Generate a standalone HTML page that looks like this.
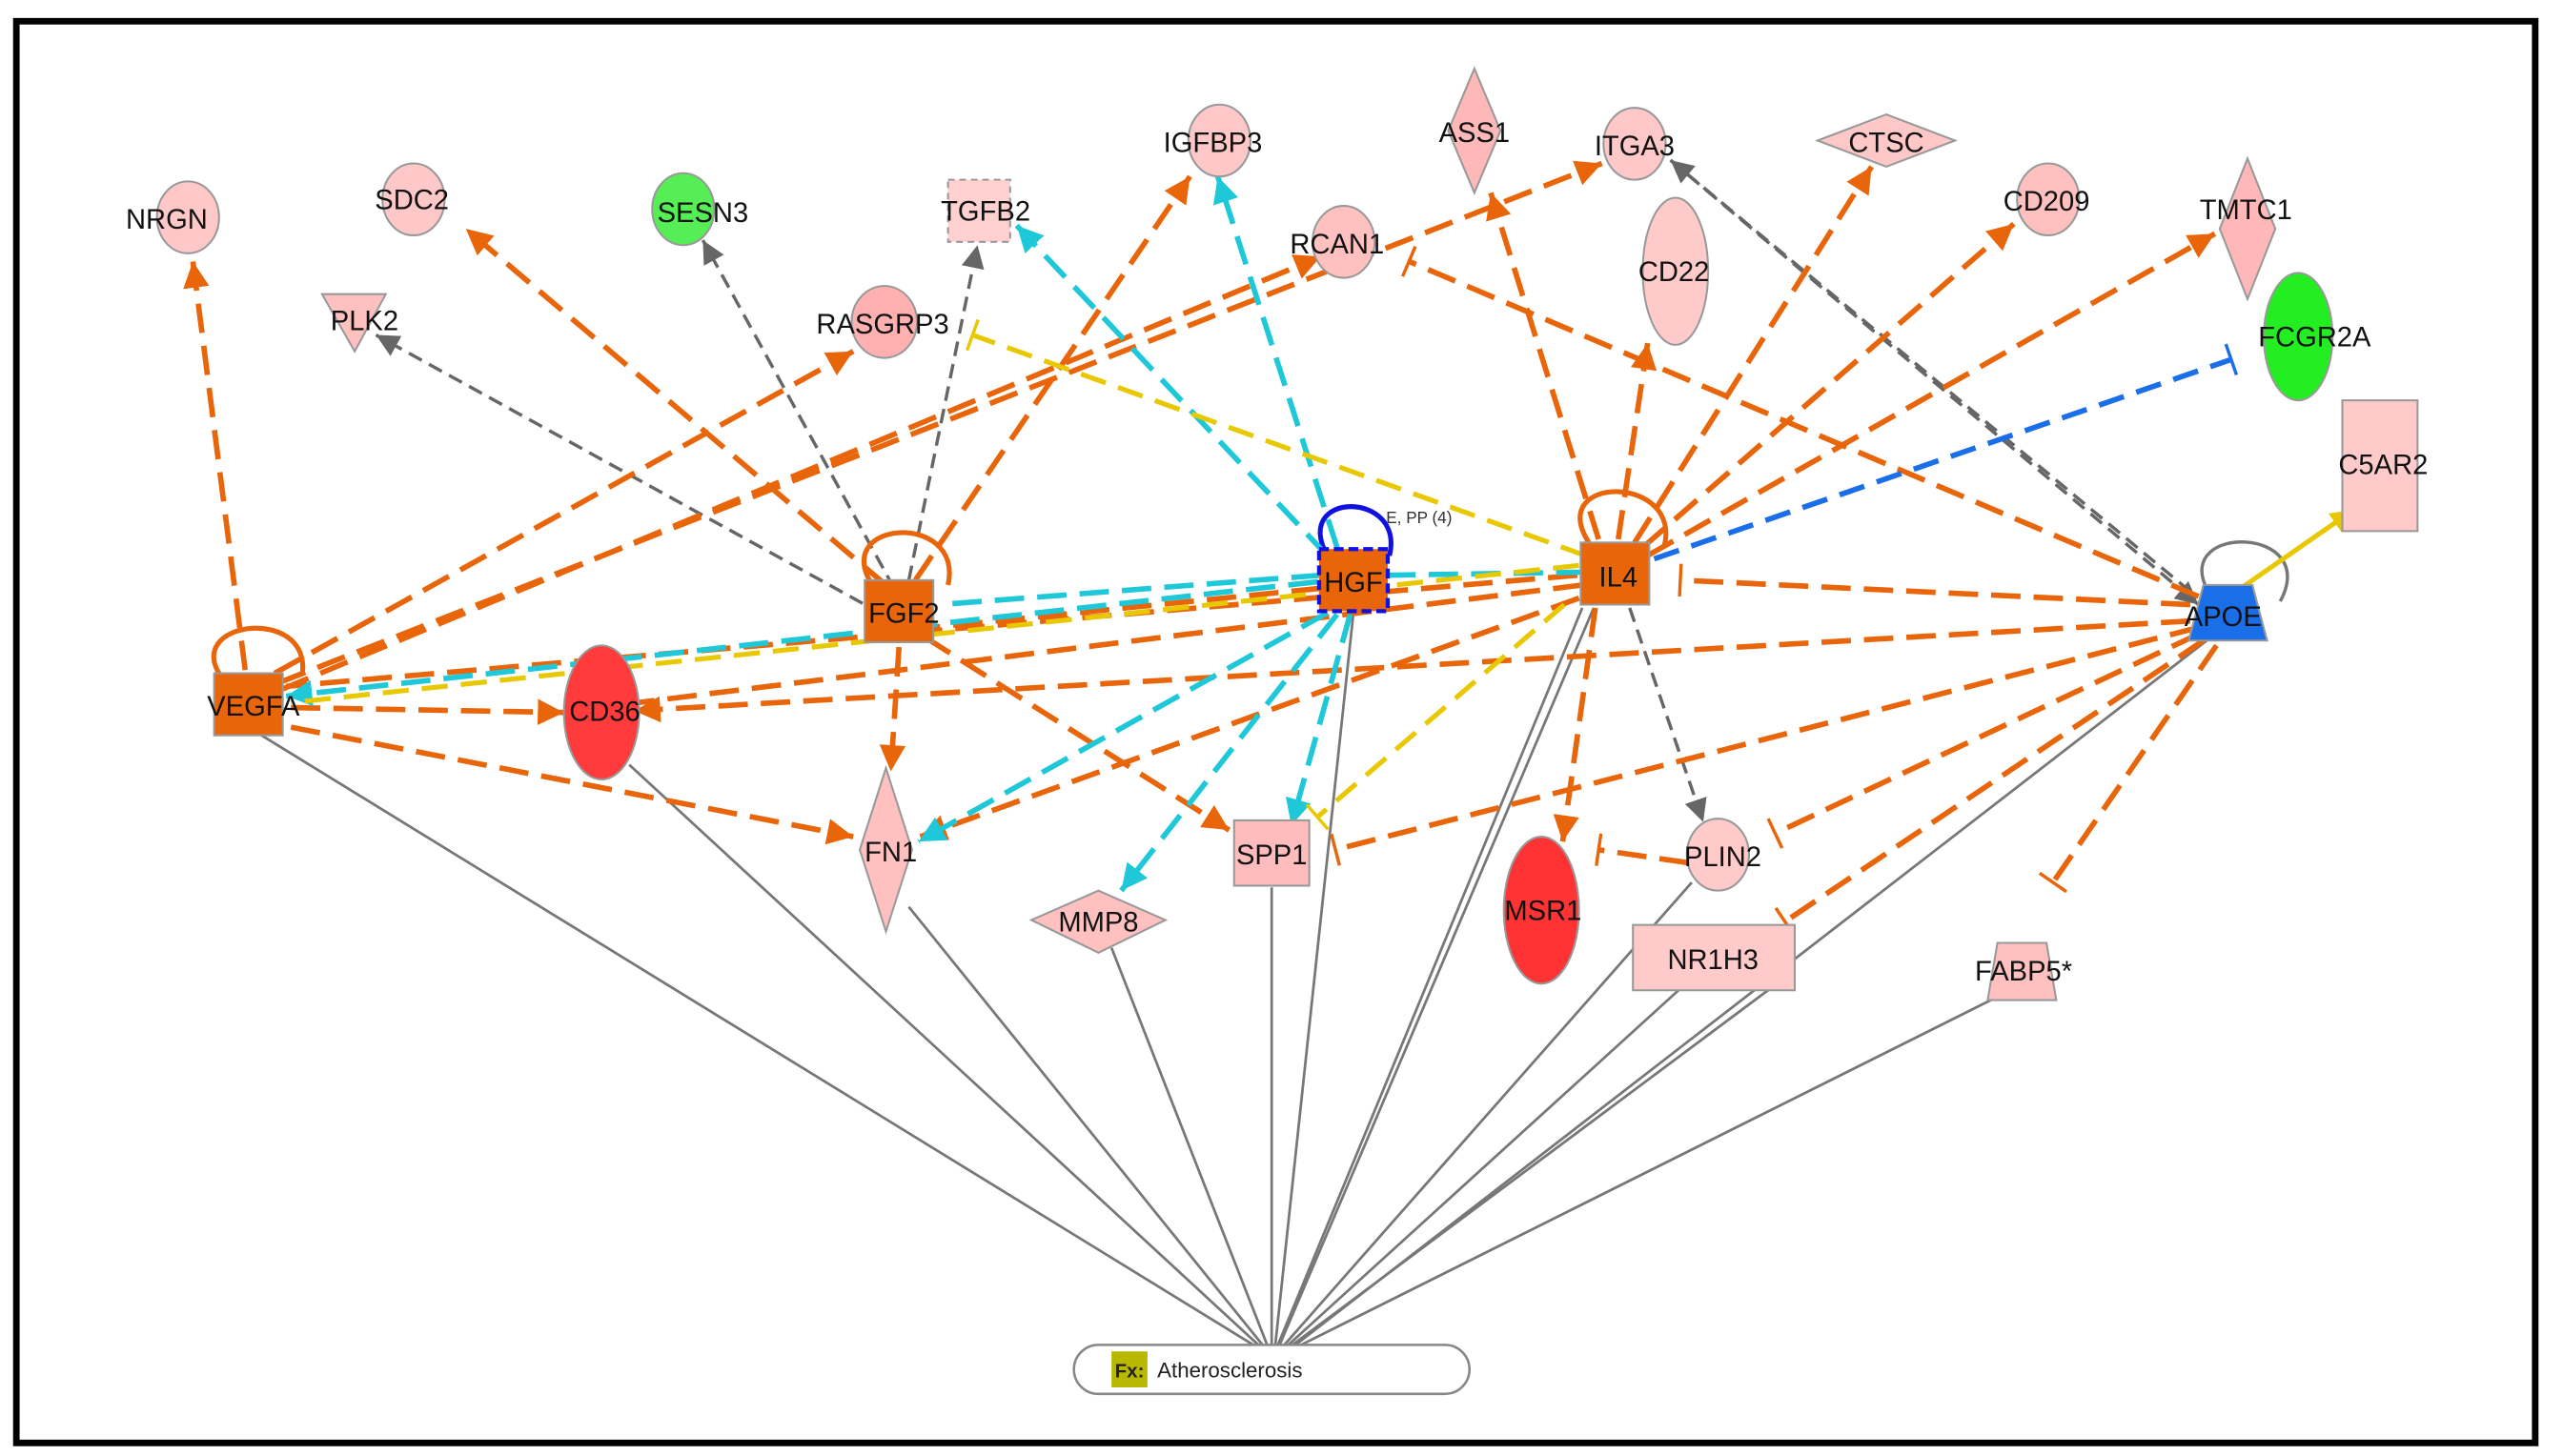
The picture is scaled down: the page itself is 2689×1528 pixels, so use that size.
<!DOCTYPE html>
<html><head><meta charset="utf-8"><style>
html,body{margin:0;padding:0;background:#fff;}
svg{display:block;}
text{font-family:"Liberation Sans",sans-serif;}
</style></head><body>
<svg width="2689" height="1528" viewBox="0 0 1568 891" xmlns="http://www.w3.org/2000/svg">
<defs>
<marker id="ao" markerUnits="userSpaceOnUse" markerWidth="20" markerHeight="20" refX="16" refY="8" orient="auto"><path d="M0,0 L16,8 L0,16 Z" fill="#e8650a"/></marker>
<marker id="ac" markerUnits="userSpaceOnUse" markerWidth="20" markerHeight="20" refX="16" refY="8" orient="auto"><path d="M0,0 L16,8 L0,16 Z" fill="#1fc8d8"/></marker>
<marker id="ag" markerUnits="userSpaceOnUse" markerWidth="20" markerHeight="20" refX="14" refY="7" orient="auto"><path d="M0,0 L14,7 L0,14 Z" fill="#666"/></marker>
<marker id="ay" markerUnits="userSpaceOnUse" markerWidth="20" markerHeight="20" refX="14" refY="7" orient="auto"><path d="M0,0 L14,7 L0,14 Z" fill="#e8c800"/></marker>
<marker id="ab" markerUnits="userSpaceOnUse" markerWidth="20" markerHeight="20" refX="14" refY="7" orient="auto"><path d="M0,0 L14,7 L0,14 Z" fill="#1010e0"/></marker>
<marker id="bo" markerUnits="userSpaceOnUse" markerWidth="4" markerHeight="20" refX="2" refY="10" orient="auto"><path d="M2,0 L2,20" stroke="#e8650a" stroke-width="2"/></marker>
<marker id="bc" markerUnits="userSpaceOnUse" markerWidth="4" markerHeight="20" refX="2" refY="10" orient="auto"><path d="M2,0 L2,20" stroke="#1fc8d8" stroke-width="2"/></marker>
<marker id="by" markerUnits="userSpaceOnUse" markerWidth="4" markerHeight="20" refX="2" refY="10" orient="auto"><path d="M2,0 L2,20" stroke="#e8c800" stroke-width="2"/></marker>
<marker id="bb" markerUnits="userSpaceOnUse" markerWidth="4" markerHeight="20" refX="2" refY="10" orient="auto"><path d="M2,0 L2,20" stroke="#1a6ee8" stroke-width="2"/></marker>
</defs>
<rect x="0" y="0" width="1568" height="891" fill="#fff"/>
<rect x="10" y="13" width="1541" height="870" fill="none" stroke="#000" stroke-width="4"/>

<!-- solid gray lines to Atherosclerosis -->
<g stroke="#777" stroke-width="1.6" fill="none">
<line x1="160" y1="450" x2="770" y2="825"/>
<line x1="385" y1="468" x2="772" y2="825"/>
<line x1="556" y1="555" x2="774" y2="825"/>
<line x1="680" y1="580" x2="776" y2="825"/>
<line x1="778" y1="543" x2="778" y2="825"/>
<line x1="828" y1="375" x2="780" y2="825"/>
<line x1="975" y1="372" x2="782" y2="825"/>
<line x1="968" y1="372" x2="781" y2="825"/>
<line x1="1035" y1="540" x2="784" y2="825"/>
<line x1="1028" y1="605" x2="786" y2="825"/>
<line x1="1083" y1="605" x2="788" y2="825"/>
<line x1="1350" y1="392" x2="790" y2="825"/>
<line x1="1218" y1="612" x2="792" y2="825"/>
</g>

<!-- gray dashed -->
<g stroke="#666" stroke-width="2" fill="none" stroke-dasharray="9 5">
<line x1="540" y1="376" x2="230" y2="205" marker-end="url(#ag)"/>
<line x1="547" y1="360" x2="430" y2="147" marker-end="url(#ag)"/>
<line x1="556" y1="355" x2="598" y2="150" marker-end="url(#ag)"/>
<line x1="1340" y1="362" x2="1022" y2="98" marker-end="url(#ag)"/>
<line x1="1022" y1="98" x2="1345" y2="370" marker-end="url(#ag)"/>
<line x1="997" y1="372" x2="1042" y2="503" marker-end="url(#ag)"/>
</g>

<!-- orange dashed arrows -->
<g stroke="#e8650a" stroke-width="3.3" fill="none" stroke-dasharray="18 8">
<line x1="150" y1="410" x2="118" y2="160" marker-end="url(#ao)"/>
<line x1="542" y1="358" x2="285" y2="140" marker-end="url(#ao)"/>
<line x1="168" y1="412" x2="522" y2="215" marker-end="url(#ao)"/>
<line x1="170" y1="418" x2="980" y2="100" marker-end="url(#ao)"/>
<line x1="172" y1="422" x2="808" y2="157" marker-end="url(#ao)"/>
<line x1="560" y1="355" x2="728" y2="108" marker-end="url(#ao)"/>
<line x1="1345" y1="365" x2="862" y2="160" marker-end="url(#bo)"/>
<line x1="978" y1="330" x2="912" y2="118" marker-end="url(#ao)"/>
<line x1="990" y1="330" x2="1008" y2="210" marker-end="url(#ao)"/>
<line x1="1000" y1="332" x2="1145" y2="102" marker-end="url(#ao)"/>
<line x1="1005" y1="335" x2="1232" y2="137" marker-end="url(#ao)"/>
<line x1="1008" y1="340" x2="1355" y2="143" marker-end="url(#ao)"/>
<line x1="965" y1="352" x2="175" y2="420"/>
<line x1="1340" y1="380" x2="388" y2="435" marker-end="url(#ao)"/>
<line x1="968" y1="358" x2="390" y2="430"/>
<line x1="178" y1="433" x2="345" y2="436" marker-end="url(#ao)"/>
<line x1="550" y1="396" x2="545" y2="472" marker-end="url(#ao)"/>
<line x1="178" y1="445" x2="522" y2="512" marker-end="url(#ao)"/>
<line x1="566" y1="390" x2="752" y2="508" marker-end="url(#ao)"/>
<line x1="966" y1="366" x2="563" y2="512" marker-end="url(#ao)"/>
<line x1="976" y1="372" x2="956" y2="515" marker-end="url(#ao)"/>
<line x1="1345" y1="384" x2="817" y2="520" marker-end="url(#bo)"/>
<line x1="1345" y1="388" x2="1086" y2="510" marker-end="url(#bo)"/>
<line x1="1033" y1="528" x2="978" y2="520" marker-end="url(#bo)"/>
<line x1="1348" y1="392" x2="1092" y2="564" marker-end="url(#bo)"/>
<line x1="1356" y1="395" x2="1256" y2="540" marker-end="url(#bo)"/>
<line x1="1340" y1="370" x2="1028" y2="355" marker-end="url(#bo)"/>
<line x1="808" y1="360" x2="560" y2="385"/>
</g>
<!-- self loops -->
<g fill="none" stroke-width="3">
<path d="M136,415 C110,380 190,370 185,412" stroke="#e8650a" marker-start="url(#ao)"/>
<path d="M535,360 C505,318 590,312 580,358" stroke="#e8650a" marker-start="url(#ao)"/>
<path d="M972,332 C945,290 1030,290 1018,335" stroke="#e8650a" marker-start="url(#ao)"/>
<path d="M1350,360 C1330,320 1420,322 1395,368" stroke="#777" stroke-width="2"/>
<path d="M812,340 C790,300 860,300 850,340" stroke="#1010e0" marker-start="url(#ab)"/>
</g>

<!-- cyan dashed -->
<g stroke="#1fc8d8" stroke-width="3.3" fill="none" stroke-dasharray="18 8">
<line x1="812" y1="340" x2="622" y2="138" marker-end="url(#ac)"/>
<line x1="818" y1="335" x2="745" y2="108" marker-end="url(#ac)"/>
<line x1="808" y1="352" x2="575" y2="370"/>
<line x1="806" y1="356" x2="175" y2="426" marker-end="url(#ac)"/>
<line x1="848" y1="352" x2="978" y2="350" marker-end="url(#bc)"/>
<line x1="812" y1="375" x2="562" y2="515" marker-end="url(#ac)"/>
<line x1="818" y1="376" x2="686" y2="545" marker-end="url(#ac)"/>
<line x1="826" y1="376" x2="790" y2="505" marker-end="url(#ac)"/>
</g>
<!-- yellow -->
<g stroke="#e8c800" stroke-width="3" fill="none" stroke-dasharray="16 8">
<line x1="970" y1="340" x2="595" y2="205" marker-end="url(#by)"/>
<line x1="966" y1="346" x2="178" y2="430"/>
<line x1="957" y1="370" x2="806" y2="500" marker-end="url(#by)"/>
</g>
<line x1="1368" y1="362" x2="1440" y2="312" stroke="#e8c800" stroke-width="3" marker-end="url(#ay)"/>
<!-- blue -->
<line x1="1012" y1="342" x2="1365" y2="220" stroke="#1a6ee8" stroke-width="3.3" stroke-dasharray="16 8" marker-end="url(#bb)"/>

<!-- nodes -->
<g stroke="#999" stroke-width="1.2">
<ellipse cx="115" cy="133" rx="19" ry="22" fill="#ffc8c8"/>
<ellipse cx="253" cy="122" rx="19" ry="22" fill="#ffc8c8"/>
<ellipse cx="418" cy="128" rx="19" ry="22" fill="#55ee55"/>
<rect x="580" y="110" width="38" height="38" fill="#ffd0d0" stroke-dasharray="4 3"/>
<ellipse cx="746" cy="86" rx="19" ry="22" fill="#ffc8c8"/>
<polygon points="902,42 918,80 902,118 886,80" fill="#ffb8b8"/>
<ellipse cx="1000" cy="88" rx="19" ry="22" fill="#ffc8c8"/>
<polygon points="1154,70 1196,86 1154,102 1112,86" fill="#ffc8c8"/>
<ellipse cx="822" cy="148" rx="19" ry="22" fill="#ffc0c0"/>
<ellipse cx="1025" cy="166" rx="20" ry="45" fill="#ffcaca"/>
<ellipse cx="1253" cy="122" rx="19" ry="22" fill="#ffc0c0"/>
<polygon points="1375,97 1392,140 1375,183 1358,140" fill="#ffb8b8"/>
<ellipse cx="1406" cy="206" rx="21" ry="39" fill="#22ee22"/>
<rect x="1433" y="245" width="46" height="80" fill="#ffcaca"/>
<polygon points="197,180 236,180 217,215" fill="#ffc0c0"/>
<ellipse cx="541" cy="197" rx="20" ry="22" fill="#ffb0b0"/>
<rect x="529" y="355" width="42" height="38" fill="#e8650a"/>
<rect x="807" y="336" width="42" height="38" fill="#e8650a" stroke="#1010e0" stroke-width="2.5" stroke-dasharray="6 3"/>
<rect x="967" y="332" width="42" height="38" fill="#e8650a"/>
<polygon points="1348,358 1378,358 1387,392 1339,392" fill="#1a6ee8"/>
<rect x="131" y="412" width="42" height="38" fill="#e8650a"/>
<ellipse cx="368" cy="436" rx="23" ry="41" fill="#ff3b3b"/>
<polygon points="542,470 558,520 542,570 526,520" fill="#ffc0c0"/>
<polygon points="672,545 713,563 672,583 631,563" fill="#ffc0c0"/>
<rect x="755" y="502" width="46" height="40" fill="#ffbcbc"/>
<ellipse cx="943" cy="557" rx="23" ry="45" fill="#ff3333"/>
<ellipse cx="1051" cy="523" rx="19" ry="22" fill="#ffcaca"/>
<rect x="999" y="566" width="99" height="40" fill="#ffcaca"/>
<polygon points="1222,577 1252,577 1258,612 1216,612" fill="#ffc0c0"/>
</g>

<g font-size="17" fill="#111" text-anchor="middle">
<text x="102" y="140">NRGN</text>
<text x="252" y="128">SDC2</text>
<text x="430" y="136">SESN3</text>
<text x="603" y="135">TGFB2</text>
<text x="742" y="93">IGFBP3</text>
<text x="902" y="87">ASS1</text>
<text x="1000" y="95">ITGA3</text>
<text x="1154" y="93">CTSC</text>
<text x="818" y="155">RCAN1</text>
<text x="1024" y="172">CD22</text>
<text x="1252" y="129">CD209</text>
<text x="1374" y="134">TMTC1</text>
<text x="1416" y="212">FCGR2A</text>
<text x="1458" y="290">C5AR2</text>
<text x="223" y="202">PLK2</text>
<text x="540" y="204">RASGRP3</text>
<text x="553" y="381">FGF2</text>
<text x="828" y="362">HGF</text>
<text x="990" y="359">IL4</text>
<text x="1360" y="383">APOE</text>
<text x="155" y="438">VEGFA</text>
<text x="370" y="441">CD36</text>
<text x="545" y="527">FN1</text>
<text x="672" y="570">MMP8</text>
<text x="778" y="529">SPP1</text>
<text x="944" y="563">MSR1</text>
<text x="1054" y="530">PLIN2</text>
<text x="1048" y="593">NR1H3</text>
<text x="1238" y="600">FABP5*</text>
</g>
<text x="848" y="320" font-size="10" fill="#333">E, PP (4)</text>

<rect x="657" y="823" width="242" height="30" rx="15" fill="#fff" stroke="#888" stroke-width="1.5"/>
<rect x="680" y="827" width="22" height="22" fill="#b8b800"/>
<text x="691" y="843" font-size="12" font-weight="bold" fill="#222" text-anchor="middle">Fx:</text>
<text x="708" y="843" font-size="13" fill="#222">Atherosclerosis</text>
</svg>
</body></html>
